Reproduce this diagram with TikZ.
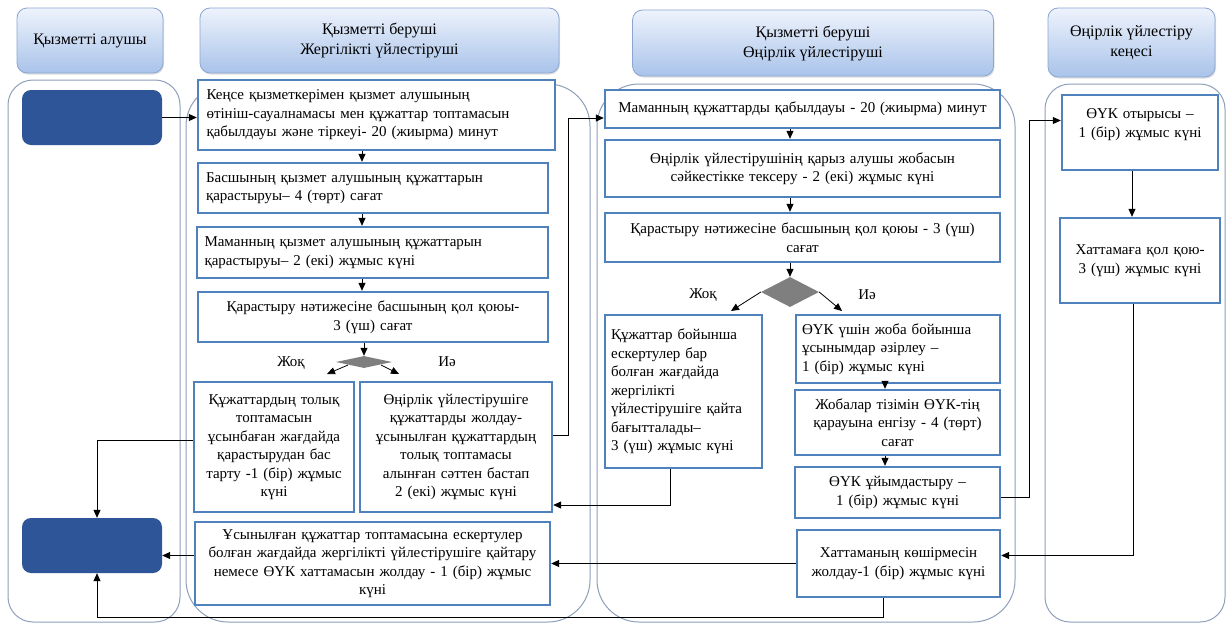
\documentclass[tikz,border=0pt]{standalone}
\usepackage{fontspec}
\setmainfont{Liberation Serif}
\usetikzlibrary{arrows.meta,shapes.geometric,shadows}
\definecolor{boxblue}{HTML}{4F81BD}
\definecolor{lanegray}{HTML}{8EA0BA}
\definecolor{hdrtop}{HTML}{EEF3FC}
\definecolor{hdrbot}{HTML}{A9C3EA}
\definecolor{hdrline}{HTML}{8CA6CF}
\definecolor{darkblue}{HTML}{2E5597}
\definecolor{diagray}{HTML}{7F7F7F}
\begin{document}
\begin{tikzpicture}[x=1pt,y=-1pt,
  lane/.style={draw=lanegray,line width=1pt,rounded corners=30pt},
  hdr/.style={draw=hdrline,line width=0.8pt,rounded corners=10pt,top color=hdrtop,bottom color=hdrbot,
    align=center,font=\fontsize{16}{20}\selectfont,inner sep=0pt,
    drop shadow={opacity=0.25,shadow xshift=1pt,shadow yshift=-1.5pt}},
  pbox/.style={draw=boxblue,line width=2.4pt,fill=white,inner sep=0pt,font=\fontsize{15}{18.5}\selectfont},
  sbox/.style={fill=darkblue,rounded corners=9pt,minimum width=140pt,minimum height=55pt,inner sep=0pt},
  dia/.style={diamond,fill=diagray,inner sep=0pt},
  lbl/.style={font=\fontsize{15}{18}\selectfont,inner sep=0pt},
  arr/.style={draw=black,line width=0.8pt,-{Triangle[length=8pt,width=7pt]}},
  ln/.style={draw=black!85,line width=0.8pt}
]
\useasboundingbox (0,0) rectangle (1231,627);
\fill[white] (0,0) rectangle (1231,627);

% lanes
\draw[lane,rounded corners=25pt] (8,80) rectangle (180,622);
\draw[lane,rounded corners=42pt] (186,84) rectangle (590,622);
\draw[lane,rounded corners=42pt] (597,84) rectangle (1015,622);
\draw[lane,rounded corners=25pt] (1045,84) rectangle (1225,622);

% headers
\node[hdr,minimum width=146pt,minimum height=65pt] (H1) at (90,40.5) {Қызметті алушы};
\node[hdr,minimum width=359pt,minimum height=65pt] (H2) at (379.5,40.5) {Қызметті беруші\\Жергілікті үйлестіруші};
\node[hdr,minimum width=361pt,minimum height=66pt] (H3) at (813,43) {Қызметті беруші\\Өңірлік үйлестіруші};
\node[hdr,minimum width=167pt,minimum height=69pt] (H4) at (1131.5,42.5) {Өңірлік үйлестіру\\кеңесі};

% lane 1
\node[sbox] (S1) at (92,117.5) {};
\node[sbox] (S2) at (92,545.5) {};

% lane 2
\node[pbox,minimum width=357pt,minimum height=70pt,text width=340pt,align=left] (B1) at (376.5,115)
 {Кеңсе қызметкерімен қызмет алушының\\өтініш-сауалнамасы мен құжаттар топтамасын\\қабылдауы және тіркеуі- 20 (жиырма) минут};
\node[pbox,minimum width=350pt,minimum height=50pt,text width=334pt,align=left] (B2) at (373,188)
 {Басшының қызмет алушының құжаттарын\\қарастыруы– 4 (төрт) сағат};
\node[pbox,minimum width=351pt,minimum height=51pt,text width=336pt,align=left] (B3) at (372.5,252.5)
 {Маманның қызмет алушының құжаттарын\\қарастыруы– 2 (екі) жұмыс күні};
\node[pbox,minimum width=350pt,minimum height=50pt,text width=340pt,align=center] (B4) at (373,317)
 {Қарастыру нәтижесіне басшының қол қоюы-\\3 (үш) сағат};
\node[dia,minimum width=56pt,minimum height=12pt] (D1d) at (364,362) {};
\node[lbl] (no1) at (291,363) {Жоқ};
\node[lbl] (yes1) at (447,362) {Иә};
\node[pbox,minimum width=160pt,minimum height=130pt,text width=154pt,align=center] (B5) at (274,447)
 {Құжаттардың толық\\топтамасын\\ұсынбаған жағдайда\\қарастырудан бас\\тарту -1 (бір) жұмыс\\күні};
\node[pbox,minimum width=192pt,minimum height=130pt,text width=186pt,align=center] (B6) at (456,447)
 {Өңірлік үйлестірушіге\\құжаттарды жолдау-\\ұсынылған құжаттардың\\толық топтамасы\\алынған сәттен бастап\\2 (екі) жұмыс күні};
\node[pbox,minimum width=355pt,minimum height=83pt,text width=350pt,align=center] (B7) at (372.5,563.5)
 {Ұсынылған құжаттар топтамасына ескертулер\\болған жағдайда жергілікті үйлестірушіге қайтару\\немесе ӨҮК хаттамасын жолдау - 1 (бір) жұмыс\\күні};

% lane 3
\node[pbox,minimum width=395pt,minimum height=38pt,text width=390pt,align=center] (C1) at (802.5,109)
 {Маманның құжаттарды қабылдауы - 20 (жиырма) минут};
\node[pbox,minimum width=395pt,minimum height=57pt,text width=390pt,align=center] (C2) at (802.5,168.5)
 {Өңірлік үйлестірушінің қарыз алушы жобасын\\сәйкестікке тексеру - 2 (екі) жұмыс күні};
\node[pbox,minimum width=395pt,minimum height=49pt,text width=390pt,align=center] (C3) at (802.5,237.5)
 {Қарастыру нәтижесіне басшының қол қоюы - 3 (үш)\\сағат};
\node[dia,minimum width=58pt,minimum height=30pt] (D2d) at (790,292) {};
\node[lbl] (no2) at (703,295) {Жоқ};
\node[lbl] (yes2) at (867,295) {Иә};
\node[pbox,minimum width=157pt,minimum height=153pt,text width=145pt,align=left] (C4) at (683.5,391.5)
 {Құжаттар бойынша\\ескертулер бар\\болған жағдайда\\жергілікті\\үйлестірушіге қайта\\бағытталады–\\3 (үш) жұмыс күні};
\node[pbox,minimum width=204pt,minimum height=68pt,text width=192pt,align=left] (C5) at (898,349)
 {ӨҮК үшін жоба бойынша\\ұсынымдар әзірлеу –\\1 (бір) жұмыс күні};
\node[pbox,minimum width=205pt,minimum height=65pt,text width=200pt,align=center] (C6) at (897.5,422.5)
 {Жобалар тізімін ӨҮК-тің\\қарауына енгізу - 4 (төрт)\\сағат};
\node[pbox,minimum width=205pt,minimum height=51pt,text width=200pt,align=center] (C7) at (897.5,492.5)
 {ӨҮК ұйымдастыру –\\1 (бір) жұмыс күні};
\node[pbox,minimum width=203pt,minimum height=67pt,text width=198pt,align=center] (C8) at (898.5,563.5)
 {Хаттаманың көшірмесін\\жолдау-1 (бір) жұмыс күні};

% lane 4
\node[pbox,minimum width=156pt,minimum height=75pt,text width=150pt,align=center] (E1) at (1140,132.5)
 {ӨҮК отырысы –\\1 (бір) жұмыс күні\\\mbox{}};
\node[pbox,minimum width=160pt,minimum height=85pt,text width=154pt,align=center] (E2) at (1140,260.5)
 {Хаттамаға қол қою-\\3 (үш) жұмыс күні};

% helper coordinates
\coordinate (d1a) at (348,365);
\coordinate (d1b) at (381,365);
\coordinate (d1l) at (327,374);
\coordinate (d1r) at (399,374);
\coordinate (d2l) at (731,311);
\coordinate (d2r) at (842,311);
\coordinate (low) at (0,617);
\coordinate (vx) at (362,0);

% connectors lane 2
\draw[arr] (S1.east) -- (B1.west |- S1.east);
\draw[arr] (B1.south -| vx) -- (B2.north -| vx);
\draw[arr] (B2.south -| vx) -- (B3.north -| vx);
\draw[arr] (B3.south -| vx) -- (B4.north -| vx);
\draw[arr] (B4.south -| D1d.north) -- (D1d.north);
\draw[arr] (d1a) -- (d1l);
\draw[arr] (d1b) -- (d1r);
\draw[arr] ([yshift=7pt]B5.west) -| ([xshift=5pt]S2.north);
\draw[arr] ([yshift=12pt]B6.east) -- ++(15,0) |- ([yshift=-9pt]C1.west);
\draw[arr] ([yshift=8pt]B7.west) -- ([yshift=8pt]B7.west -| S2.east);

% connectors lane 3
\draw[arr] (C1.south -| D2d.north) -- (C2.north -| D2d.north);
\draw[arr] (C2.south -| D2d.north) -- (C3.north -| D2d.north);
\draw[arr] (C3.south -| D2d.north) -- (D2d.north);
\draw[arr] (D2d.west) -- (d2l);
\draw[arr] (D2d.east) -- (d2r);
\draw[arr] ([xshift=-13pt]C4.south) |- ([yshift=-58pt]B6.east);
\draw[arr] ([xshift=-13pt]C5.south) -- ([xshift=-12.5pt]C6.north);
\draw[arr] ([xshift=-12.5pt]C6.south) -- ([xshift=-12.5pt]C7.north);
\draw[arr] ([yshift=-5pt]C7.east) -- ++(28,0) |- ([yshift=12pt]E1.west);
\draw[arr] (C8.west) -- (B7.east);
\draw[arr] ([xshift=-15.5pt]C8.south) -- ([xshift=-15.5pt]C8.south |- low) -| ([xshift=5pt]S2.south);

% connectors lane 4
\draw[arr] ([xshift=-8pt]E1.south) -- ([xshift=-8pt]E2.north);
\draw[arr] ([xshift=-7pt]E2.south) |- ([yshift=8pt]C8.east);
\end{tikzpicture}
\end{document}
